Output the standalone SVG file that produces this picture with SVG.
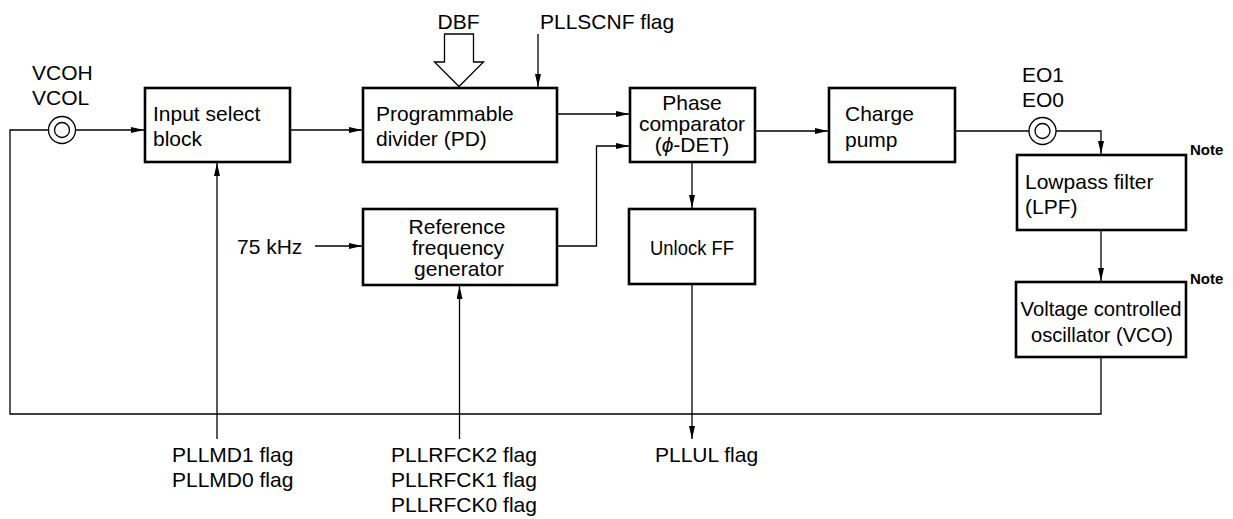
<svg xmlns="http://www.w3.org/2000/svg" width="1233" height="519" viewBox="0 0 1233 519">
<defs>
<marker id="ah" viewBox="0 0 13 6" refX="13" refY="3" markerWidth="13" markerHeight="6" markerUnits="userSpaceOnUse" orient="auto">
<path d="M0,0 L13,3 L0,6 z" fill="#000"/>
</marker>
</defs>
<style>
text{font-family:"Liberation Sans",Arial,sans-serif;font-size:21px;fill:#000}
.box{fill:#fff;stroke:#000;stroke-width:2.6}
.ln{fill:none;stroke:#000;stroke-width:1.3}
.arr{fill:none;stroke:#000;stroke-width:1.3;marker-end:url(#ah)}
.note{font-weight:bold;font-size:15px}
.mid{text-anchor:middle}
</style>
<rect width="1233" height="519" fill="#fff"/>
<g id="connectors">
<polyline class="ln" points="1101,357 1101,414 10,414 10,130 48,130"/>
<line class="arr" x1="76" y1="130" x2="144" y2="130"/>
<line class="arr" x1="290" y1="130" x2="362" y2="130"/>
<line class="arr" x1="557" y1="114" x2="629" y2="114"/>
<polyline class="arr" points="557,246 596.5,246 596.5,146 629,146"/>
<line class="arr" x1="755" y1="131" x2="828" y2="131"/>
<line class="ln" x1="955" y1="131" x2="1029" y2="131"/>
<polyline class="arr" points="1056,131 1101,131 1101,154"/>
<line class="arr" x1="1101" y1="230" x2="1101" y2="281"/>
<line class="arr" x1="692" y1="162" x2="692" y2="208"/>
<line class="arr" x1="692" y1="284" x2="692" y2="439"/>
<line class="arr" x1="217" y1="439" x2="217" y2="163"/>
<line class="arr" x1="459.5" y1="439" x2="459.5" y2="286"/>
<line class="arr" x1="315" y1="246" x2="362" y2="246"/>
<line class="arr" x1="538" y1="34" x2="538" y2="87"/>
<polygon class="ln" points="444.5,34 473.5,34 473.5,62 483.5,62 459,86.5 434.5,62 444.5,62"/>
</g>
<g id="vco-pin">
<circle class="ln" cx="62" cy="130" r="13.5"/>
<circle class="ln" cx="62" cy="130" r="7.5"/>
<text x="32" y="80">VCOH</text>
<text x="32" y="105">VCOL</text>
</g>
<g id="eo-pin">
<circle class="ln" cx="1042.5" cy="131" r="13.5"/>
<circle class="ln" cx="1042.5" cy="131" r="7.5"/>
<text x="1022" y="82">EO1</text>
<text x="1022" y="107">EO0</text>
</g>
<g id="input-select">
<rect class="box" x="145" y="88" width="145" height="74"/>
<text x="153" y="121">Input select</text>
<text x="153" y="146">block</text>
</g>
<g id="pd">
<rect class="box" x="363" y="88" width="194" height="74"/>
<text x="376" y="121">Programmable</text>
<text x="376" y="146">divider (PD)</text>
</g>
<g id="phase-comparator">
<rect class="box" x="630" y="88" width="125" height="74"/>
<text class="mid" x="692" y="110">Phase</text>
<text class="mid" x="692" y="131">comparator</text>
<text class="mid" x="692" y="152">(<tspan font-style="italic">ϕ</tspan>-DET)</text>
</g>
<g id="charge-pump">
<rect class="box" x="829" y="88" width="126" height="74"/>
<text x="845" y="121">Charge</text>
<text x="845" y="147">pump</text>
</g>
<g id="lpf">
<rect class="box" x="1017" y="155" width="169" height="75"/>
<text x="1025" y="189">Lowpass filter</text>
<text x="1025" y="214">(LPF)</text>
<text class="note" x="1190" y="155">Note</text>
</g>
<g id="vco">
<rect class="box" x="1016" y="282" width="170" height="75"/>
<text class="mid" x="1101" y="316" font-size="20" textLength="161" lengthAdjust="spacingAndGlyphs">Voltage controlled</text>
<text class="mid" x="1102" y="342" font-size="20" textLength="142" lengthAdjust="spacingAndGlyphs">oscillator (VCO)</text>
<text class="note" x="1190" y="284">Note</text>
</g>
<g id="ref-gen">
<rect class="box" x="363" y="209" width="194" height="76"/>
<text class="mid" x="457" y="234">Reference</text>
<text class="mid" x="458" y="255">frequency</text>
<text class="mid" x="459" y="276">generator</text>
</g>
<g id="unlock-ff">
<rect class="box" x="629" y="209" width="126" height="75"/>
<text class="mid" x="692" y="255" textLength="84" lengthAdjust="spacingAndGlyphs">Unlock FF</text>
</g>
<g id="labels">
<text x="437.5" y="29">DBF</text>
<text x="540" y="29">PLLSCNF flag</text>
<text x="237" y="254">75 kHz</text>
<text x="172" y="462">PLLMD1 flag</text>
<text x="172" y="487">PLLMD0 flag</text>
<text x="391" y="462">PLLRFCK2 flag</text>
<text x="391" y="487">PLLRFCK1 flag</text>
<text x="391" y="512">PLLRFCK0 flag</text>
<text x="655" y="462">PLLUL flag</text>
</g>
</svg>
